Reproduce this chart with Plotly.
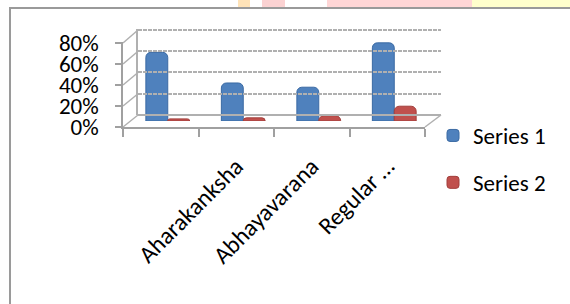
import plotly.graph_objects as go

categories = ["", "Aharakanksha", "Abhayavarana", "Regular …"]
series1 = [0.65, 0.36, 0.32, 0.74]
series2 = [0.02, 0.03, 0.05, 0.14]
y_ticks = [0, 0.2, 0.4, 0.6, 0.8]

W, H = 570, 304
FONT = "Carlito, Calibri, Lato, sans-serif"
GRID = "#b0b0b0"
AX = "#a0a0a0"


def px(x):
    return x / W


def py(y):
    return 1 - y / H


# pixel frames: (left, right, y_at_0, y_at_max)
front = (123, 425, 127, 43)
mid = (130, 432, 121, 36.5)
back = (138, 441, 115, 30)
YMAX = 0.8
YTOP = 0.81  # small headroom so the 80% gridline is drawn


def ymap(frame, v):
    l, r, y0, y1 = frame
    return py(y0 + (y1 - y0) * v / YMAX)


def ydomain(frame):
    return [ymap(frame, 0), ymap(frame, YTOP)]


fig = go.Figure()

fig.add_trace(go.Bar(name="Series 1", x=categories, y=series1,
                     marker=dict(color="#4F81BD", line=dict(color="#3b6aa3", width=1)),
                     legendgroup="s1"))
fig.add_trace(go.Bar(name="Series 2", x=categories, y=series2,
                     marker=dict(color="#C0504D", line=dict(color="#a23f3c", width=1)),
                     legendgroup="s2"))
# anchors for back wall and front axes
fig.add_trace(go.Scatter(x=categories, y=[None] * 4, xaxis="x2", yaxis="y2",
                         showlegend=False, hoverinfo="skip"))
fig.add_trace(go.Scatter(x=categories, y=[None] * 4, xaxis="x3", yaxis="y3",
                         showlegend=False, hoverinfo="skip"))

shapes = []
# top watermark strip and border
shapes.append(dict(type="rect", xref="paper", yref="paper", x0=px(327), x1=px(472),
                   y0=py(7), y1=1, fillcolor="#FFD6D6", line=dict(width=0), layer="below"))
shapes.append(dict(type="rect", xref="paper", yref="paper", x0=px(472), x1=1,
                   y0=py(7), y1=1, fillcolor="#FFFFCC", line=dict(width=0), layer="below"))
shapes.append(dict(type="rect", xref="paper", yref="paper", x0=px(238), x1=px(250),
                   y0=py(7), y1=1, fillcolor="#FFE3B8", line=dict(width=0), layer="below"))
shapes.append(dict(type="rect", xref="paper", yref="paper", x0=px(262), x1=px(285),
                   y0=py(7), y1=1, fillcolor="#FBD2D2", line=dict(width=0), layer="below"))
shapes.append(dict(type="line", xref="paper", yref="paper", x0=px(9), x1=1,
                   y0=py(8), y1=py(8), line=dict(color="#9a9a9a", width=2)))
shapes.append(dict(type="line", xref="paper", yref="paper", x0=px(10), x1=px(10),
                   y0=py(8), y1=0, line=dict(color="#9a9a9a", width=2)))
# side wall diagonals from front axis ticks to back wall
for v in y_ticks:
    shapes.append(dict(type="line", xref="paper", yref="paper",
                       x0=px(front[0]), y0=ymap(front, v),
                       x1=px(back[0]), y1=ymap(back, v),
                       line=dict(color=GRID, width=1.5), layer="below"))
# floor right edge
shapes.append(dict(type="line", xref="paper", yref="paper",
                   x0=px(front[1]), y0=ymap(front, 0),
                   x1=px(back[1]), y1=ymap(back, 0),
                   line=dict(color=GRID, width=1.5), layer="below"))

fig.update_layout(
    width=W, height=H,
    margin=dict(l=0, r=0, t=0, b=0, autoexpand=False),
    paper_bgcolor="white", plot_bgcolor="rgba(0,0,0,0)",
    barmode="group", bargap=0.42, bargroupgap=0.0, barcornerradius=5,
    font=dict(family=FONT, size=23, color="black"),
    showlegend=True,
    legend=dict(x=px(433), y=py(114), xanchor="left", yanchor="top",
                font=dict(family=FONT, size=23, color="black"),
                tracegroupgap=14, bgcolor="rgba(0,0,0,0)", itemclick=False),
    shapes=shapes,
    xaxis=dict(domain=[px(mid[0]), px(mid[1])], range=[-0.5, 3.5],
               type="category", categoryarray=categories, automargin=False,
               showgrid=False, showline=False, showticklabels=False, ticks="",
               anchor="y"),
    yaxis=dict(domain=ydomain(mid), range=[0, YTOP], automargin=False,
               showgrid=False, showline=False, showticklabels=False, ticks="",
               zeroline=False, anchor="x"),
    xaxis2=dict(domain=[px(back[0]), px(back[1])], range=[-0.5, 3.5],
                type="category", categoryarray=categories, automargin=False,
                showgrid=False, showline=False, showticklabels=False, ticks="",
                anchor="y2"),
    yaxis2=dict(domain=ydomain(back), range=[0, YTOP], automargin=False,
                tickvals=y_ticks, showgrid=True, gridcolor=GRID, gridwidth=2,
                griddash="4px,1px", zeroline=True, zerolinecolor=GRID,
                zerolinewidth=2, showline=True, linecolor=GRID,
                linewidth=1.5, showticklabels=False, ticks="", anchor="x2"),
    xaxis3=dict(domain=[px(front[0]), px(front[1])], range=[-0.5, 3.5],
                type="category", categoryarray=categories, automargin=False,
                showgrid=False, showline=True, linecolor=AX, linewidth=1.5,
                ticks="outside", tickson="boundaries", ticklen=8, tickcolor=AX,
                tickwidth=1.5, tickangle=-45, ticklabelstandoff=14,
                tickfont=dict(family=FONT, size=24, color="black"),
                anchor="y3"),
    yaxis3=dict(domain=ydomain(front), range=[0, YTOP], automargin=False,
                tickvals=y_ticks, tickformat=".0%", showgrid=False, zeroline=False,
                showline=True, linecolor=AX, linewidth=1.5, ticks="outside",
                ticklen=6, tickcolor=AX, tickwidth=1.5, ticklabelstandoff=12,
                tickfont=dict(family=FONT, size=23, color="black"),
                anchor="x3"),
)

fig.write_html("out.html", config={"displayModeBar": False},
               post_script="document.body.style.margin='0';document.body.style.overflow='hidden';")
